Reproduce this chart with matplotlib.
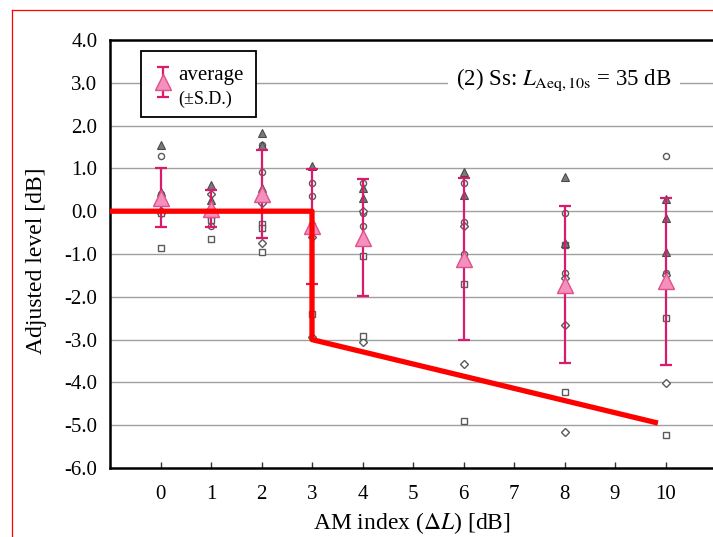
import numpy as np
import matplotlib
matplotlib.use('Agg')
import matplotlib.pyplot as plt
from matplotlib.lines import Line2D
from matplotlib.patches import Rectangle

plt.rcParams['font.family'] = ['Liberation Serif', 'DejaVu Serif']
plt.rcParams['mathtext.fontset'] = 'stix'

# averages and standard deviations
x_avg = [0, 1, 2, 3, 4, 6, 8, 10]
avg = [0.32, 0.06, 0.40, -0.35, -0.62, -1.12, -1.72, -1.64]
sd = [0.68, 0.44, 1.03, 1.34, 1.37, 1.90, 1.83, 1.95]

# individual listeners
tri_x = [0, 0, 1, 1, 2, 2, 2, 3, 3, 4, 4, 6, 6, 8, 8, 10, 10, 10]
tri_y = [1.55, 0.45, 0.62, 0.25, 1.82, 1.55, 0.55, 1.05, -0.40, 0.55, 0.30, 0.92, 0.38, 0.80, -0.75, 0.28, -0.15, -0.95]
circ_x = [0, 0, 1, 1, 2, 2, 3, 3, 4, 4, 4, 6, 6, 6, 8, 8, 10, 10]
circ_y = [1.30, 0.40, -0.35, -0.15, 1.55, 0.92, 0.65, 0.35, 0.65, -0.05, -0.35, 0.65, -0.25, -1.00, -0.05, -1.45, 1.30, -1.45]
diam_x = [0, 0, 1, 1, 2, 2, 3, 3, 4, 4, 6, 6, 8, 8, 8, 10, 10]
diam_y = [0.00, -0.05, 0.40, 0.05, 0.20, -0.75, -0.60, -2.95, 0.00, -3.05, -0.35, -3.57, -1.55, -2.65, -5.15, -1.50, -4.02]
sq_x = [0, 0, 1, 1, 2, 2, 2, 3, 3, 4, 4, 6, 6, 8, 8, 10, 10]
sq_y = [-0.05, -0.85, -0.20, -0.65, -0.30, -0.40, -0.95, -0.35, -2.40, -1.05, -2.92, -1.70, -4.90, -0.80, -4.22, -2.50, -5.23]

# red annotation line
red_x = [-1, 3, 3, 9.85]
red_y = [0, 0, -3, -4.95]

xticks = list(range(0, 11))
yticks = [4, 3, 2, 1, 0, -1, -2, -3, -4, -5, -6]

pink_face = '#f58fbd'
pink_edge = '#d81b6a'

fig = plt.figure(figsize=(7.13, 5.37), dpi=100)
ax = fig.add_axes([110/713, 69/537, 606/713, 428/537])
ax.set_xlim(-1, 11)
ax.set_ylim(-6, 4)

for y in yticks[1:-1]:
    ax.axhline(y, color='#a0a0a0', lw=1.0, zorder=0)

gray = '#5a5a5a'
ax.plot(circ_x, circ_y, 'o', ms=4.4, mfc='white', mec=gray, mew=1.0, ls='none', zorder=2)
ax.plot(diam_x, diam_y, 'D', ms=3.8, mfc='white', mec=gray, mew=1.0, ls='none', zorder=2)
ax.plot(sq_x, sq_y, 's', ms=4.4, mfc='white', mec=gray, mew=1.0, ls='none', zorder=2)
ax.plot(tri_x, tri_y, '^', ms=5.2, mfc='#7a7a7a', mec='#4a4a4a', mew=0.8, ls='none', zorder=2)

ax.errorbar(x_avg, avg, yerr=sd, fmt='none', ecolor=pink_edge, elinewidth=1.6,
            capsize=4.5, capthick=1.6, zorder=3)
ax.plot(x_avg, avg, '^', ms=12, mfc=pink_face, mec='#e0508a', mew=1.0, ls='none', zorder=4)

ax.plot(red_x, red_y, color='#ff0000', lw=3.8, solid_capstyle='butt', zorder=5)

ax.set_xticks(xticks)
ax.set_yticks(yticks)
ax.set_yticklabels(['%.1f' % v for v in yticks])
ax.tick_params(axis='x', direction='in', length=4.5, width=1.0, color='#333333',
               labelsize=15, pad=12)
ax.tick_params(axis='y', length=0, labelsize=15, pad=9)
for s in ['left', 'bottom', 'top', 'right']:
    ax.spines[s].set_linewidth(1.8)
    ax.spines[s].set_color('black')

ax.set_xlabel(r'AM index ($\Delta L$) [dB]', fontsize=17)
ax.xaxis.set_label_coords(0.498, -0.098)
ax.set_ylabel('Adjusted level [dB]', fontsize=17)
ax.yaxis.set_label_coords(-0.104, 0.484)

ax.text(0.749, 0.9065, r'(2) Ss: $L_{\mathrm{Aeq,10s}}$ = 35 dB', transform=ax.transAxes,
        ha='center', va='center', fontsize=16.5,
        bbox=dict(facecolor='white', edgecolor='none', pad=6))

# legend box
ax.add_patch(Rectangle((0.0512, 0.8201), 0.1898, 0.1542, transform=ax.transAxes,
                       facecolor='white', edgecolor='black', lw=1.3, zorder=6))
ax.errorbar([0.0875], [0.9018], yerr=[0.035], transform=ax.transAxes, fmt='^', ms=11,
            mfc=pink_face, mec='#e0508a', ecolor=pink_edge, elinewidth=1.6, capsize=4,
            capthick=1.6, zorder=7)
ax.text(0.1122, 0.916, 'average', transform=ax.transAxes, ha='left', va='center',
        fontsize=15, zorder=7)
ax.text(0.1122, 0.862, '(±S.D.)', transform=ax.transAxes, ha='left', va='center',
        fontsize=13, zorder=7)

# red frame around the figure
fig.add_artist(Line2D([11.5/713, 11.5/713], [0, 1 - 10/537], color='red', lw=0.9))
fig.add_artist(Line2D([11.5/713, 1], [1 - 10/537, 1 - 10/537], color='red', lw=0.9))

fig.savefig('out.png', dpi=100)
